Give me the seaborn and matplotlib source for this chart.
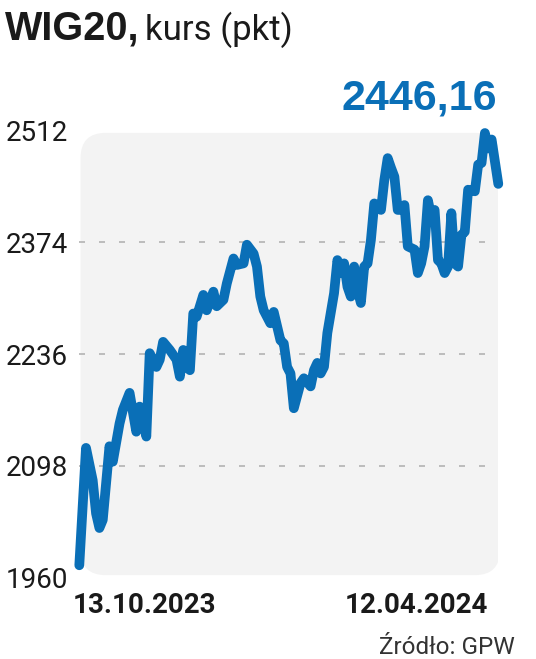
import pandas as pd
import matplotlib
matplotlib.use('Agg')
import matplotlib.pyplot as plt
from matplotlib.patches import FancyBboxPatch
import seaborn as sns

# WIG20 closing values (session number from 13.10.2023)
sessions = [0, 2, 4, 5, 6, 7, 9, 10, 12, 13, 15, 17, 18, 19, 20, 21, 23, 24, 25, 27,
            29, 30, 31, 32, 33, 34, 35, 37, 38, 40, 41, 43, 44, 46, 47, 49, 50, 52, 53, 54,
            55, 57, 58, 60, 61, 62, 63, 64, 66, 67, 69, 70, 71, 72, 73, 74, 76, 77, 78, 79,
            80, 81, 82, 83, 84, 85, 86, 87, 88, 90, 91, 92, 93, 94, 95, 96, 97, 98, 100, 101,
            102, 103, 104, 105, 106, 107, 108, 109, 110, 111, 112, 113, 114, 115, 116, 118, 119, 120, 121, 122,
            123, 125]
wig20 = [1975, 2120, 2080, 2039, 2021, 2031, 2122, 2103, 2150, 2167, 2188, 2140, 2171, 2155, 2134, 2237, 2220, 2229, 2251, 2241,
         2229, 2208, 2241, 2220, 2216, 2286, 2282, 2309, 2290, 2313, 2295, 2303, 2323, 2354, 2346, 2348, 2371, 2360, 2344, 2307,
         2290, 2274, 2288, 2253, 2249, 2220, 2212, 2169, 2200, 2206, 2196, 2216, 2225, 2212, 2220, 2262, 2311, 2352, 2336, 2348,
         2319, 2307, 2344, 2315, 2299, 2344, 2348, 2377, 2422, 2414, 2451, 2478, 2466, 2455, 2414, 2414, 2420, 2369, 2365, 2336,
         2348, 2369, 2426, 2406, 2414, 2352, 2348, 2336, 2344, 2410, 2348, 2344, 2383, 2387, 2439, 2437, 2470, 2472, 2509, 2490,
         2501, 2446.16]
y_ticks = [1960, 2098, 2236, 2374, 2512]
date_labels = ['13.10.2023', '12.04.2024']
last_value = '2446,16'

df = pd.DataFrame({'session': sessions, 'wig20': wig20})

sns.set_theme(style='white')
narrow = ['Roboto', 'DejaVu Sans']
wide = ['Liberation Sans', 'DejaVu Sans']
plt.rcParams['font.family'] = narrow

blue = '#0a6fb7'
dark = '#1a1a1a'
W, H = 536, 659
fig = plt.figure(figsize=(W / 100, H / 100), dpi=100)
ax = fig.add_axes([79.3 / W, 1 - 577.4 / H, 419 / W, 446.8 / H])
ax.patch.set_visible(False)

panel = FancyBboxPatch((0.003, 0.005), 1.001, 0.99,
                       boxstyle='round,pad=0,rounding_size=0.06', mutation_aspect=0.94,
                       transform=ax.transAxes, facecolor='#f3f3f3', edgecolor='none', zorder=0)
ax.add_patch(panel)

for v in y_ticks[1:-1]:
    ax.axhline(v, xmin=0, xmax=0.98, color='#b3b3b3', lw=1.2, dashes=(3.6, 8.4), zorder=1)

sns.lineplot(data=df, x='session', y='wig20', ax=ax, color=blue, lw=7,
             solid_capstyle='round', solid_joinstyle='round', zorder=3, clip_on=False)

ax.set_xlim(0, 125)
ax.set_ylim(1960, 2512)
ax.set_yticks(y_ticks)
ax.set_yticklabels([str(v) for v in y_ticks], fontsize=20, color=dark)
ax.set_xticks([])
ax.tick_params(axis='y', length=0, pad=8)
ax.set_xlabel('')
ax.set_ylabel('')
for s in ax.spines.values():
    s.set_visible(False)

fig.text(5 / W, 1 - 40 / H, 'WIG20,', family=wide, fontsize=28.5, fontweight='bold',
         color=dark, va='baseline', ha='left')
fig.text(145 / W, 1 - 40 / H, 'kurs (pkt)', fontsize=25, color=dark,
         va='baseline', ha='left')
fig.text(497 / W, 1 - 110 / H, last_value, family=wide, fontsize=31, fontweight='bold',
         color=blue, va='baseline', ha='right')
fig.text(73 / W, 1 - 613 / H, date_labels[0], fontsize=20, fontweight='bold',
         color=dark, va='baseline', ha='left')
fig.text(488 / W, 1 - 613 / H, date_labels[1], fontsize=20, fontweight='bold',
         color=dark, va='baseline', ha='right')
fig.text(515 / W, 1 - 654 / H, 'Źródło: GPW', fontsize=17.5, color='#333333',
         va='baseline', ha='right')

fig.savefig('out.png', dpi=100)
